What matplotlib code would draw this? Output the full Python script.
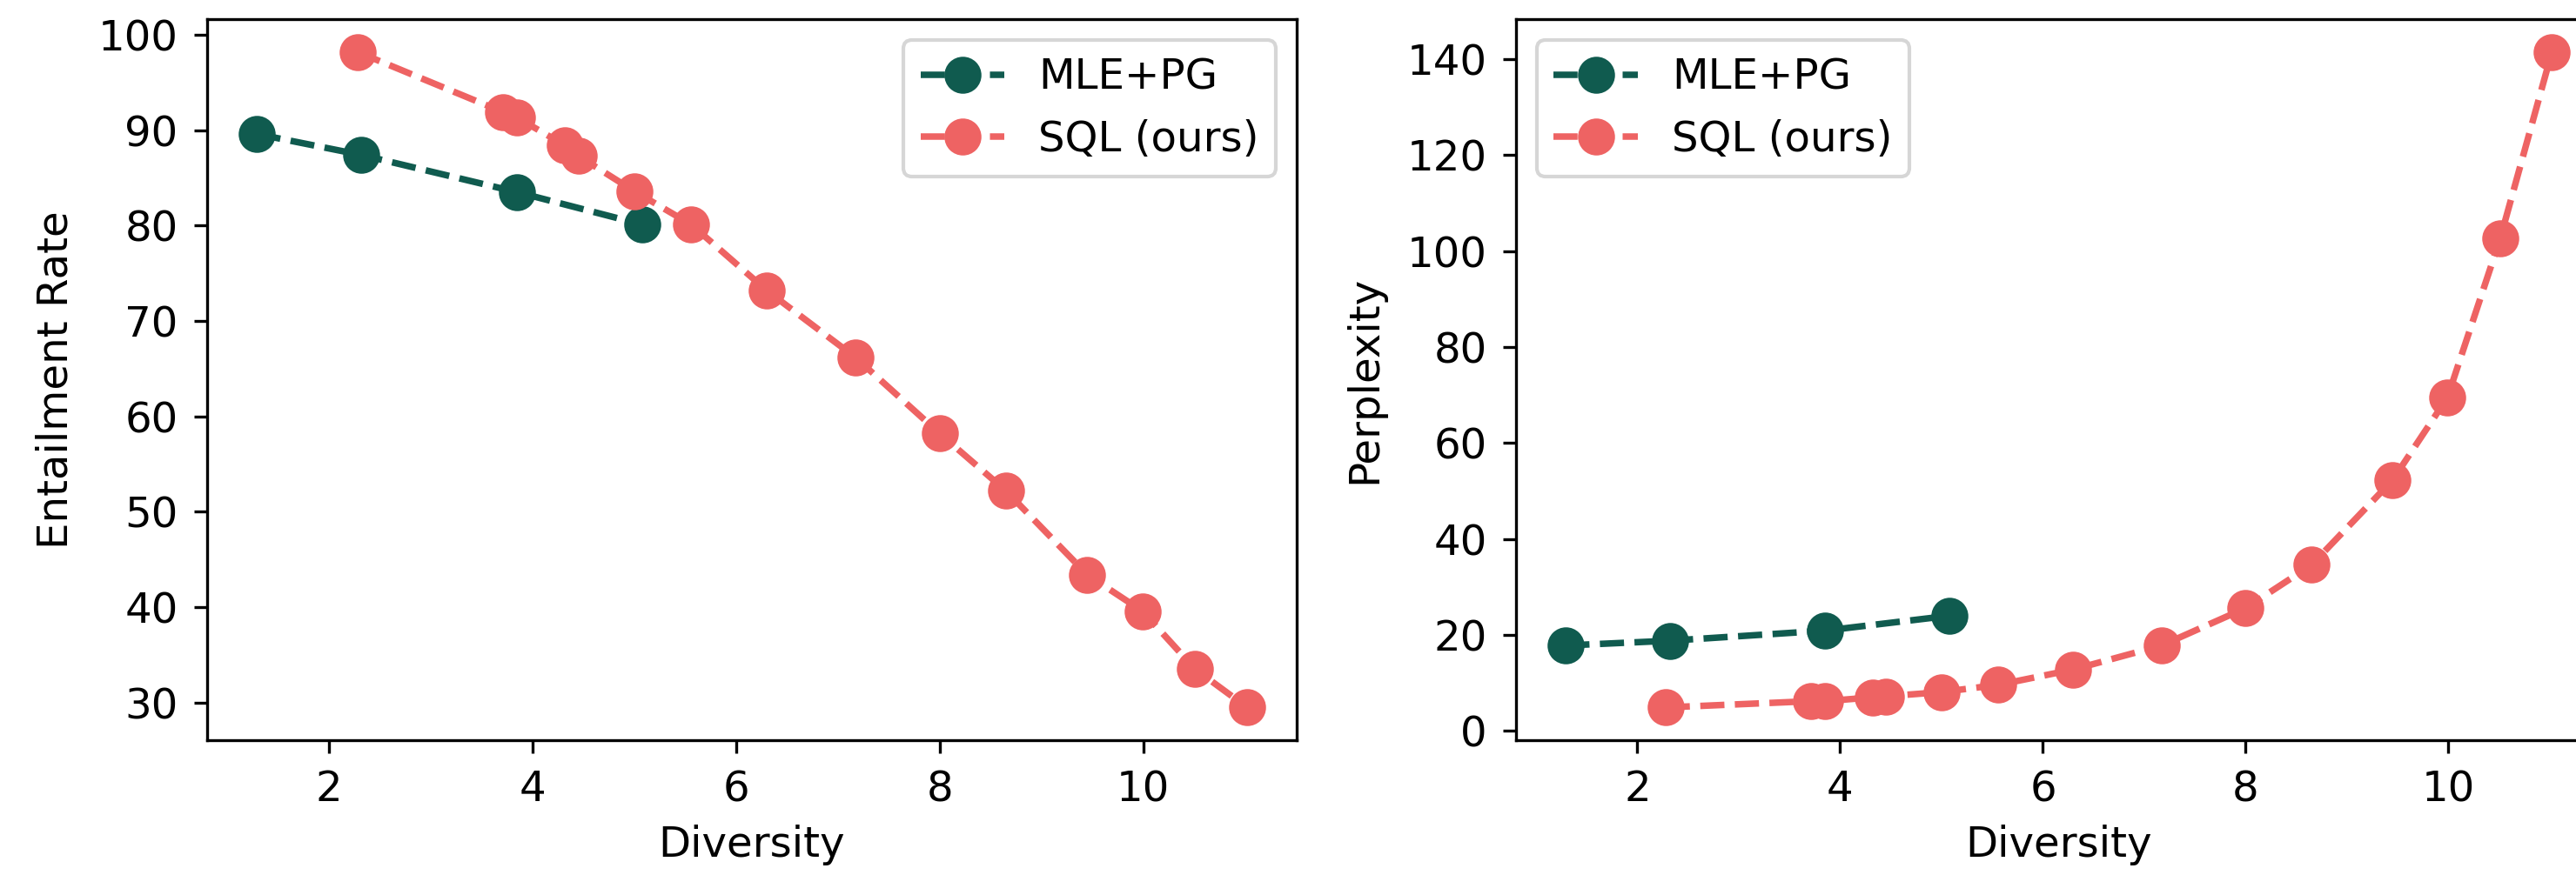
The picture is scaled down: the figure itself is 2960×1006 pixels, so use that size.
import matplotlib
matplotlib.use("Agg")
import matplotlib.pyplot as plt

# Data
mle_div = [1.29, 2.32, 3.85, 5.08]
mle_ent = [89.6, 87.4, 83.5, 80.1]
mle_ppl = [17.8, 18.8, 20.9, 24.0]

sql_div = [2.28, 3.71, 3.85, 4.32, 4.45, 5.0, 5.56, 6.3, 7.17, 8.0, 8.65, 9.45, 9.99, 10.51, 11.02]
sql_ent = [98.2, 91.9, 91.3, 88.4, 87.3, 83.6, 80.1, 73.2, 66.2, 58.2, 52.2, 43.4, 39.6, 33.5, 29.5]
sql_ppl = [4.9, 6.2, 6.2, 7.0, 7.2, 8.1, 9.6, 12.8, 17.8, 25.6, 34.6, 52.3, 69.5, 102.6, 141.5]

labels = ["MLE+PG", "SQL (ours)"]
green = "#105b4f"
red = "#ee6363"

W, H = 2961, 1006
dpi = 300
fs = 11.6
fig = plt.figure(figsize=(W / dpi, H / dpi), dpi=dpi)
plt.rcParams['font.size'] = fs

def pos(x0, x1, ytop, ybot):
    return [x0 / W, 1 - ybot / H, (x1 - x0) / W, (ybot - ytop) / H]

ax1 = fig.add_axes(pos(238, 1490, 22, 851))
ax2 = fig.add_axes(pos(1742, 2989, 22, 851))

kw = dict(linestyle="--", marker="o", markersize=9.2, linewidth=1.8)
ax1.plot(mle_div, mle_ent, color=green, label=labels[0], **kw)
ax1.plot(sql_div, sql_ent, color=red, label=labels[1], **kw)
ax1.set_xlabel("Diversity", fontsize=fs)
ax1.set_ylabel("Entailment Rate", fontsize=fs, labelpad=6)
ax1.legend(loc="upper right", fontsize=fs)

ax2.plot(mle_div, mle_ppl, color=green, label=labels[0], **kw)
ax2.plot(sql_div, sql_ppl, color=red, label=labels[1], **kw)
ax2.set_xlabel("Diversity", fontsize=fs)
ax2.set_ylabel("Perplexity", fontsize=fs, labelpad=6)
ax2.legend(loc="upper left", fontsize=fs)

for ax in (ax1, ax2):
    ax.tick_params(labelsize=fs, pad=4.5)
    ax.set_xticks([2, 4, 6, 8, 10])

fig.savefig("out.png", dpi=dpi)
